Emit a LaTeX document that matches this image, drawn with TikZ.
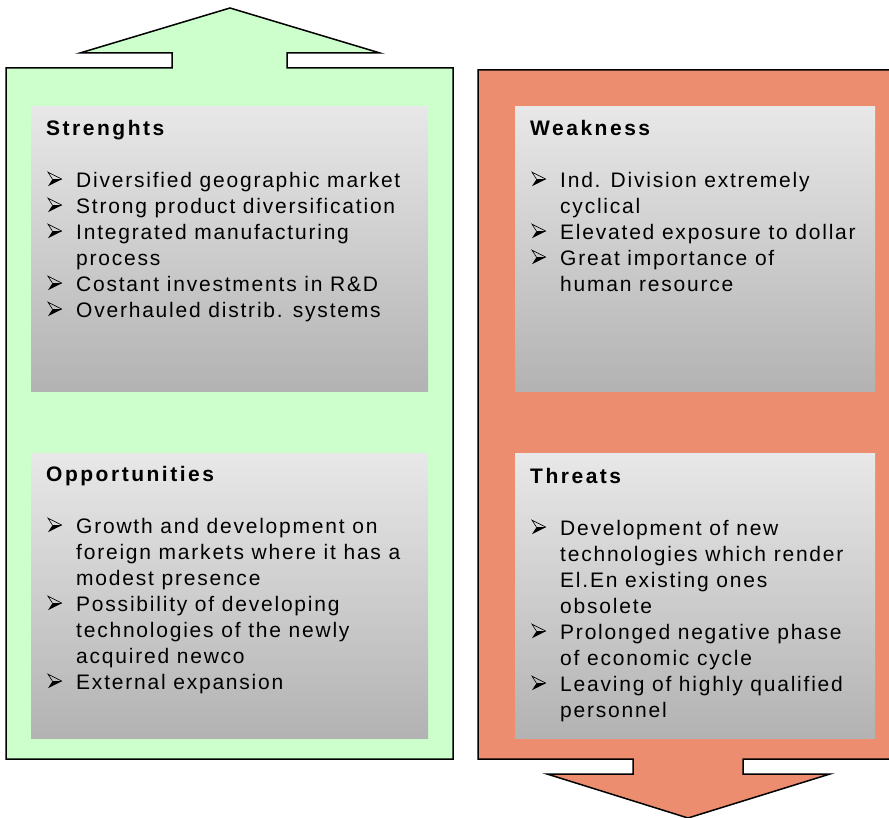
\documentclass[tikz,border=0pt]{standalone}
\usepackage{fontspec}
\setmainfont{Liberation Sans}
\newfontfamily\bodyfont{Liberation Sans}[LetterSpace=8.5]
\newfontfamily\headfont{Liberation Sans}[LetterSpace=12]
\definecolor{mint}{HTML}{CCFFCC}
\definecolor{salmon}{HTML}{EC8D6F}
% arrowhead bullet: outlined upper half, filled lower half
\newcommand{\arrowbullet}{\tikz[x=1pt,y=1pt,baseline=0pt,line width=0.6pt]{%
  \fill[black] (4.5,8) -- (14,8) -- (0,1) -- cycle;
  \draw[line join=miter] (4.5,8) -- (0,15) -- (14,8);}}
% bullet and continuation indent for list lines
\newcommand{\itm}{\makebox[30pt][l]{\hspace{1.5pt}\arrowbullet}}
\newcommand{\cnt}{\makebox[30pt]{}}
\newcommand{\heading}[1]{\strut{\headfont\bfseries #1}\\[26pt]}
\begin{document}
\begin{tikzpicture}[x=1pt,y=-1pt,
  panel/.style={draw=black, line width=1.5pt, line join=miter},
  card/.style={rectangle, inner sep=0pt, anchor=north west, draw=none,
    top color=black!9, bottom color=black!30,
    minimum width=#1, minimum height=285pt},
  listtext/.style={anchor=north west, inner sep=0pt, align=left,
    font={\bodyfont\fontsize{21}{26}\selectfont}}]
\useasboundingbox (0,0) rectangle (889,818);

% green panel with upward arrow
\draw[panel, fill=mint] (6,68) -- (172,68) -- (172,53) -- (80,53) -- (230,8)
  -- (380,53) -- (287,53) -- (287,68) -- (453,68) -- (453,759) -- (6,759) -- cycle;

% salmon panel with downward arrow
\draw[panel, fill=salmon] (478,70) -- (895,70) -- (895,759) -- (743,759) -- (743,774)
  -- (830,774) -- (688,818) -- (547,774) -- (633,774) -- (633,759) -- (478,759) -- cycle;

% grey cards
\node[card=397pt] (sbox) at (31,106) {};
\node[card=397pt] (obox) at (31,453) {};
\node[card=360pt] (wbox) at (515,106) {};
\node[card=360pt] (tbox) at (515,453) {};

% card texts (top of each block = first baseline minus strut height)
\node[listtext] (stext) at (46,116.8) {\heading{Strenghts}
\itm Diversified geographic market\\
\itm Strong product diversification\\
\itm Integrated manufacturing\\
\cnt process\\
\itm Costant investments in R\&D\\
\itm Overhauled distrib. systems};

\node[listtext] (otext) at (46,462.8) {\heading{Opportunities}
\itm Growth and development on\\
\cnt foreign markets where it has a\\
\cnt modest presence\\
\itm Possibility of developing\\
\cnt technologies of the newly\\
\cnt acquired newco\\
\itm External expansion};

\node[listtext] (wtext) at (530,116.8) {\heading{Weakness}
\itm Ind. Division extremely\\
\cnt cyclical\\
\itm Elevated exposure to dollar\\
\itm Great importance of\\
\cnt human resource};

\node[listtext] (ttext) at (530,464.8) {\heading{Threats}
\itm Development of new\\
\cnt technologies which render\\
\cnt El.En existing ones\\
\cnt obsolete\\
\itm Prolonged negative phase\\
\cnt of economic cycle\\
\itm Leaving of highly qualified\\
\cnt personnel};
\end{tikzpicture}
\end{document}
